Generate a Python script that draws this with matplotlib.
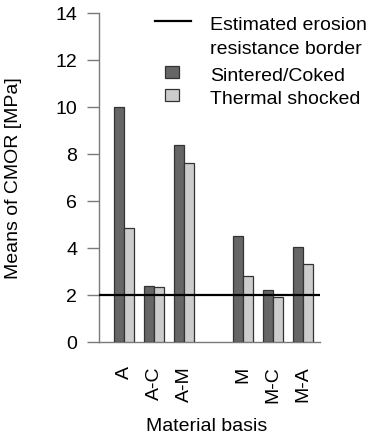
import matplotlib
matplotlib.use("Agg")
import matplotlib.pyplot as plt
import numpy as np
from matplotlib.lines import Line2D
from matplotlib.patches import Rectangle

plt.rcParams['font.family'] = ['Liberation Sans', 'DejaVu Sans']
plt.rcParams['font.size'] = 14

materials = ['A', 'A-C', 'A-M', 'M', 'M-C', 'M-A']
sintered = [10.0, 2.38, 8.36, 4.50, 2.20, 4.02]
shocked = [4.83, 2.32, 7.63, 2.78, 1.89, 3.30]
border = 2.0
yticks = [0, 2, 4, 6, 8, 10, 12, 14]

dark = '#666666'
light = '#cccccc'
edge = '#333333'
grey = '#7a7a7a'

fig = plt.figure(figsize=(3.69, 4.35), dpi=100)
W, H = 369.0, 435.0
ax = fig.add_axes([99 / W, (H - 342.7) / H, 221 / W, 328.7 / H])

# two groups of three, with a gap between them
x = np.arange(len(materials)) + np.array([0, 0, 0, 1, 1, 1]) * 0.95
w = 1 / 3.0
ax.bar(x - w, sintered, width=w, align='edge', color=dark, edgecolor=edge, linewidth=0.9, zorder=2)
ax.bar(x, shocked, width=w, align='edge', color=light, edgecolor=edge, linewidth=0.9, zorder=2)

ax.axhline(border, color='black', linewidth=1.6, zorder=3)
ax.axhline(0, color=grey, linewidth=1.0, zorder=1, clip_on=False)

ax.set_xlim(-0.85, 6.52)
ax.set_ylim(0, 14)
ax.set_yticks(yticks)
ax.set_xticks(x, materials, rotation=90)

for s in ['top', 'right', 'bottom']:
    ax.spines[s].set_visible(False)
ax.spines['left'].set_color(grey)
ax.spines['left'].set_linewidth(1.0)
ax.tick_params(axis='y', length=8.6, width=1.0, color=grey, pad=7, labelsize=14)
ax.tick_params(axis='x', length=0, pad=17, labelsize=14)

fig.text(14 / W, 1 - 178 / H, 'Means of CMOR [MPa]', rotation=90, ha='center', va='center', fontsize=14)
fig.text(207 / W, 1 - 431 / H, 'Material basis', ha='center', va='baseline', fontsize=14)

# legend drawn by hand
fig.add_artist(Line2D([155 / W, 191 / W], [1 - 22 / H, 1 - 22 / H], color='black', linewidth=1.6))
fig.text(210 / W, 1 - 30 / H, 'Estimated erosion', ha='left', va='baseline', fontsize=14)
fig.text(210 / W, 1 - 54 / H, 'resistance border', ha='left', va='baseline', fontsize=14)
for yc, col, lab in [(73, dark, 'Sintered/Coked'), (96, light, 'Thermal shocked')]:
    fig.add_artist(Rectangle((165 / W, 1 - (yc + 6) / H), 14 / W, 12 / H,
                             facecolor=col, edgecolor=edge, linewidth=0.9))
    fig.text(210 / W, 1 - (yc + 8) / H, lab, ha='left', va='baseline', fontsize=14)

fig.savefig('out.png', dpi=100)
